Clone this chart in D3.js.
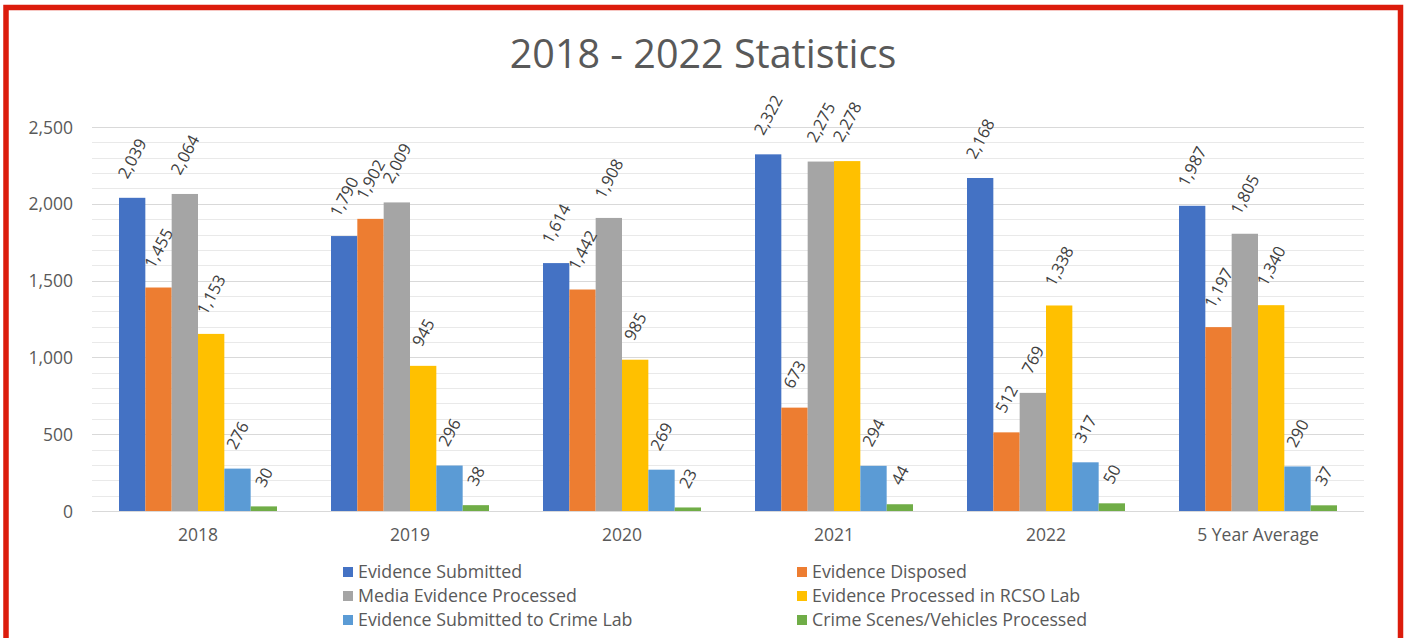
<!DOCTYPE html>
<html>
<head>
<meta charset="utf-8">
<script src="https://cdn.jsdelivr.net/npm/d3@7"></script>
<style>
  html, body { margin: 0; padding: 0; background: #fff; }
  svg { display: block; }
  text { font-family: "Open Sans", "DejaVu Sans", sans-serif; }
</style>
</head>
<body>
<svg id="chart" width="1404" height="638"></svg>
<script>
const title = "2018 - 2022 Statistics";
const categories = ["2018", "2019", "2020", "2021", "2022", "5 Year Average"];
const seriesNames = [
  "Evidence Submitted",
  "Evidence Disposed",
  "Media Evidence Processed",
  "Evidence Processed in RCSO Lab",
  "Evidence Submitted to Crime Lab",
  "Crime Scenes/Vehicles Processed"
];
const seriesColors = ["#4472C4", "#ED7D31", "#A5A5A5", "#FFC000", "#5B9BD5", "#70AD47"];
const evidenceSubmitted   = [2039, 1790, 1614, 2322, 2168, 1987];
const evidenceDisposed    = [1455, 1902, 1442, 673, 512, 1197];
const mediaProcessed      = [2064, 2009, 1908, 2275, 769, 1805];
const processedRcsoLab    = [1153, 945, 985, 2278, 1338, 1340];
const submittedCrimeLab   = [276, 296, 269, 294, 317, 290];
const crimeScenes         = [30, 38, 23, 44, 50, 37];
const seriesValues = [evidenceSubmitted, evidenceDisposed, mediaProcessed, processedRcsoLab, submittedCrimeLab, crimeScenes];
const majorTicks = [0, 500, 1000, 1500, 2000, 2500];
const yMax = 2500;
const minorStep = 100;

const svg = d3.select("#chart");

// red frame
svg.append("rect")
  .attr("x", 6).attr("y", 7.5)
  .attr("width", 1394.5).attr("height", 700)
  .attr("fill", "none")
  .attr("stroke", "#DC1C0C")
  .attr("stroke-width", 5.5);

const plot = { left: 92, right: 1364, top: 127, bottom: 511 };

const x0 = d3.scaleBand()
  .domain(categories)
  .range([plot.left, plot.right])
  .paddingInner(54 / 212)
  .paddingOuter(27 / 212);

const x1 = d3.scaleBand()
  .domain(d3.range(seriesNames.length))
  .range([0, x0.bandwidth()]);

const y = d3.scaleLinear().domain([0, yMax]).range([plot.bottom, plot.top]);

// minor gridlines
const minorTicks = d3.range(0, yMax + 1, minorStep).filter(v => !majorTicks.includes(v));
svg.append("g").selectAll("line").data(minorTicks).join("line")
  .attr("x1", plot.left).attr("x2", plot.right)
  .attr("y1", d => Math.round(y(d)) + 0.5).attr("y2", d => Math.round(y(d)) + 0.5)
  .attr("stroke", "#E9E9E9").attr("stroke-width", 1);

// major gridlines + labels via axis
const yAxis = d3.axisLeft(y).tickValues(majorTicks).tickFormat(d3.format(",")).tickSize(0).tickPadding(19);
const gy = svg.append("g").attr("transform", `translate(${plot.left},0)`).call(yAxis);
gy.select(".domain").remove();
gy.selectAll("text").attr("fill", "#595959").style("font-size", "17.5px").attr("dy", "0.35em");
svg.append("g").selectAll("line").data(majorTicks).join("line")
  .attr("x1", plot.left).attr("x2", plot.right)
  .attr("y1", d => Math.round(y(d)) + 0.5).attr("y2", d => Math.round(y(d)) + 0.5)
  .attr("stroke", "#D9D9D9").attr("stroke-width", 1);

// x axis labels
const xAxis = d3.axisBottom(x0).tickSize(0).tickPadding(18);
const gx = svg.append("g").attr("transform", `translate(0,${plot.bottom})`).call(xAxis);
gx.select(".domain").remove();
gx.selectAll("text").attr("fill", "#595959").style("font-size", "17.5px");

// bars
const groups = svg.append("g").selectAll("g").data(categories).join("g")
  .attr("transform", d => `translate(${x0(d)},0)`);

groups.selectAll("rect")
  .data((c, ci) => seriesValues.map((vals, si) => ({ si, v: vals[ci] })))
  .join("rect")
  .attr("x", d => x1(d.si))
  .attr("width", x1.bandwidth())
  .attr("y", d => y(d.v))
  .attr("height", d => y(0) - y(d.v))
  .attr("fill", d => seriesColors[d.si]);

// rotated data labels
const angle = 62;
const rad = angle * Math.PI / 180;
const fmt = d3.format(",");
const labelFs = 16.5;
groups.each(function(c, ci) {
  const g = d3.select(this);
  seriesValues.forEach((vals, si) => {
    const v = vals[ci];
    const cx = x1(si) + x1.bandwidth() / 2;
    const t = g.append("text")
      .text(fmt(v))
      .attr("fill", "#404040")
      .style("font-size", labelFs + "px")
      .attr("text-anchor", "middle")
      .attr("dy", "0.36em");
    const L = t.node().getComputedTextLength();
    const h = 0.72 * labelFs;
    const H = L * Math.sin(rad) + h * Math.cos(rad);
    const cy = y(v) - 18 - H / 2;
    t.attr("transform", `translate(${cx},${cy}) rotate(${-angle})`);
  });
});

// title
svg.append("text")
  .attr("x", 703).attr("y", 68)
  .attr("text-anchor", "middle")
  .attr("fill", "#595959")
  .style("font-size", "39.5px")
  .text(title);

// legend
const legendCols = [343, 797];
const legendRows = [572, 596, 620];
const legend = svg.append("g").selectAll("g").data(seriesNames).join("g")
  .attr("transform", (d, i) => `translate(${legendCols[i % 2]},${legendRows[Math.floor(i / 2)]})`);
legend.append("rect")
  .attr("x", 0).attr("y", -5).attr("width", 10).attr("height", 10)
  .attr("fill", (d, i) => seriesColors[i]);
legend.append("text")
  .attr("x", 15).attr("y", 0).attr("dy", "0.35em")
  .attr("fill", "#595959")
  .style("font-size", "17.8px")
  .text(d => d);
</script>
</body>
</html>
